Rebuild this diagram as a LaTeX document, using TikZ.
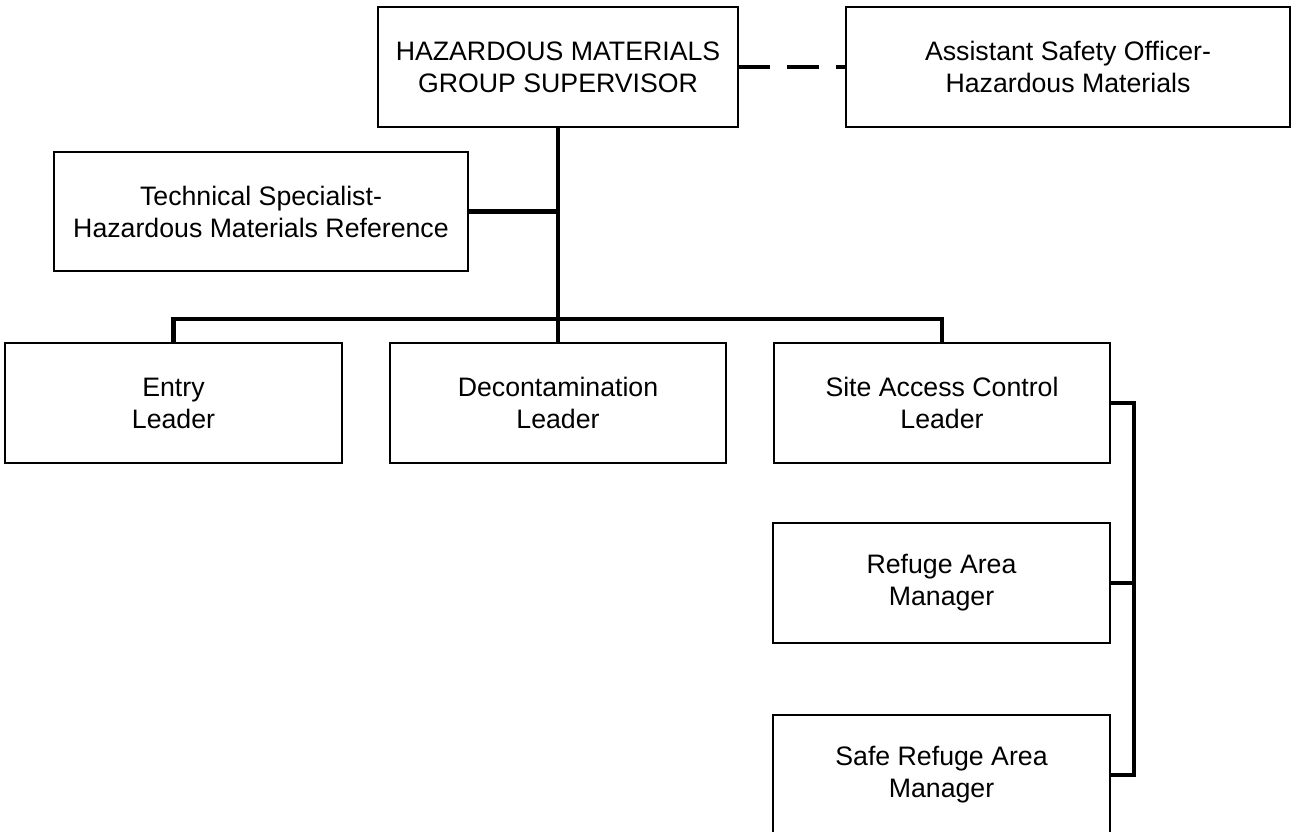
\documentclass[tikz,border=0pt]{standalone}
\usepackage{fontspec}
\setmainfont{Liberation Sans}

\begin{document}
\begin{tikzpicture}[x=0.02cm, y=-0.02cm,
every node/.style={font=\fontsize{15.2}{18.2}\selectfont, align=center},
box/.style={draw, line width=0.85pt, inner sep=0pt, minimum height=2.4cm},
link/.style={line width=2.3pt}]
\useasboundingbox (0,0) rectangle (1293,831);
\clip (0,0) rectangle (1293,831);

\node[box, minimum width=7.2cm] (sup) at (558,67) {HAZARDOUS MATERIALS\\GROUP SUPERVISOR};
\node[box, minimum width=8.88cm] (asst) at (1068,67) {Assistant Safety Officer-\\Hazardous Materials};
\node[box, minimum width=8.28cm, minimum height=2.38cm] (tech) at (261,211.5) {Technical Specialist-\\Hazardous Materials Reference};

\node[box, minimum width=6.74cm] (entry) at (173.5,403) {Entry\\Leader};
\node[box, minimum width=6.72cm] (decon) at (558,403) {Decontamination\\Leader};
\node[box, minimum width=6.72cm] (site) at (942,403) {Site Access Control\\Leader};
\node[box, minimum width=6.74cm] (refuge) at (941.5,583) {Refuge Area\\Manager};
\node[box, minimum width=6.74cm] (safe) at (941.5,775) {Safe Refuge Area\\Manager};

\coordinate (bus) at (558,319);
\coordinate (rail) at (1134,0);

\draw[link] (sup.south) -- (decon.north);
\draw[link] (tech.east) -- (tech.east -| sup.south);
\draw[link] (entry.north) |- (bus) -| (site.north);
\draw[link, dash pattern=on 18pt off 9.6pt] (sup.east) -- (asst.west);
\draw[link] (site.east) -| (rail |- safe.east) -- (safe.east);
\draw[link] (refuge.east) -- (refuge.east -| rail);
\end{tikzpicture}
\end{document}
